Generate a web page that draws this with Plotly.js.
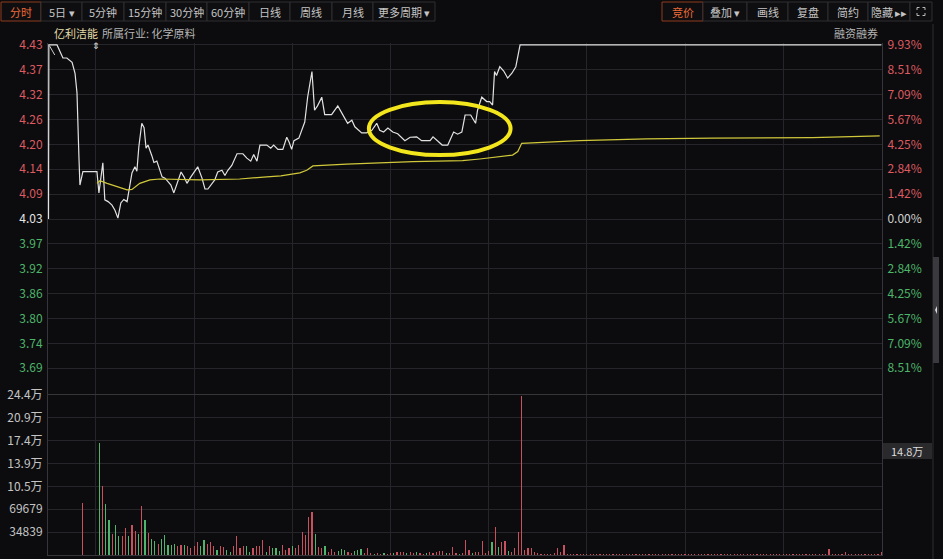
<!DOCTYPE html>
<html><head><meta charset="utf-8">
<script src="https://cdn.plot.ly/plotly-3.0.1.min.js"></script>
<style>html,body{margin:0;padding:0;background:#0c0c0e;}#chart{width:943px;height:559px;}</style>
</head><body><div id="chart"></div>
<script>
// ---------------- DATA ----------------
const stockName = '亿利洁能';
const industry = '所属行业: 化学原料';
const prevClose = 4.03;

// price ticks (left) and percent ticks (right)
const pctTickVals = [9.93, 8.51, 7.09, 5.67, 4.25, 2.84, 1.42, 0, -1.42, -2.84, -4.25, -5.67, -7.09, -8.51];
const priceTickText = ['4.43','4.37','4.32','4.26','4.20','4.14','4.09','4.03','3.97','3.92','3.86','3.80','3.74','3.69'];
const pctTickText = ['9.93%','8.51%','7.09%','5.67%','4.25%','2.84%','1.42%','0.00%','1.42%','2.84%','4.25%','5.67%','7.09%','8.51%'];

// volume ticks
const volTickVals = [34839, 69679, 104518, 139357, 174197, 209036, 243875];
const volTickText = ['34839','69679','10.5万','13.9万','17.4万','20.9万','24.4万'];

// price line (minutes from 9:30; negative = call auction)
const priceT = [-14.5,-14.4,-11.9,-10.1,-8.9,-7.3,-6.4,-5.8,-5.2,-4.9,-4.0,0.3,0.9,2.1,2.7,3.7,4.9,5.8,6.7,7.6,8.5,9.5,11,11.9,12.5,13.1,14,14.7,15.3,15.9,17.1,17.7,18.6,19.2,20.2,21.1,22,22.9,23.8,24.7,26,26.9,27.8,29,29.9,31.1,32.4,33.3,34.2,35.4,36.3,37.2,38.5,39.4,40.3,41.5,43.1,44.9,46.1,47.3,48.2,49.2,50.1,52.2,53.4,54.3,55.6,57.1,58.3,59,59.8,60.5,62,63.8,64.7,66,66.8,67.7,69,69.9,72,73.9,75.4,76.9,78.2,79.1,81.2,82.7,84.3,85.8,86.7,87.9,89.2,90.7,92.2,94.4,96,98,99.5,101.1,102.1,103,104.6,105.8,107.5,108.4,109.3,110.5,111.8,112.8,114.5,116,116.6,117.9,119.4,120.3,121.2,121.8,122.4,123.4,124.6,125.8,127.1,128.3,129.6,240];
const priceV = [4.03,4.43,4.43,4.40,4.40,4.39,4.365,4.32,4.17,4.108,4.139,4.139,4.09,4.159,4.074,4.07,4.062,4.05,4.032,4.067,4.075,4.07,4.136,4.15,4.14,4.196,4.25,4.24,4.193,4.20,4.175,4.16,4.163,4.15,4.127,4.124,4.115,4.108,4.09,4.11,4.138,4.127,4.112,4.127,4.138,4.15,4.124,4.099,4.099,4.112,4.12,4.138,4.142,4.13,4.142,4.153,4.18,4.18,4.17,4.163,4.178,4.163,4.20,4.20,4.193,4.20,4.19,4.19,4.218,4.207,4.19,4.21,4.216,4.253,4.311,4.369,4.28,4.29,4.31,4.27,4.27,4.29,4.27,4.25,4.257,4.242,4.228,4.228,4.234,4.25,4.234,4.23,4.239,4.23,4.226,4.21,4.218,4.219,4.21,4.21,4.21,4.219,4.208,4.20,4.20,4.216,4.23,4.225,4.23,4.269,4.269,4.25,4.28,4.31,4.30,4.30,4.292,4.369,4.36,4.38,4.37,4.354,4.365,4.38,4.43,4.43];

// auction indicative-price stroke (the small cross at the open)
const auctionCrossT = [-14.2, -12.6];
const auctionCrossV = [4.428, 4.407];

// average price line
const avgT = [0.3,1.2,3.4,6.4,9.5,11,13.4,16.5,19.5,31.8,43.9,52.2,56.5,62.3,64.4,66.3,76.6,96.8,112,117.3,121.2,127.3,128.9,130.1,147.8,168.2,188.4,219,239.5];
const avgV = [4.112,4.118,4.112,4.105,4.097,4.098,4.112,4.12,4.122,4.12,4.122,4.127,4.129,4.136,4.142,4.152,4.156,4.162,4.164,4.168,4.172,4.177,4.185,4.204,4.21,4.214,4.216,4.217,4.221];

// call-auction volume bar
const auctionT = [-4];
const auctionVol = [78800];

// per-minute volume, minutes 1..240
const volume = [
170000,105000,78000,54000,32000,45000,29000,29000,41000,29000,
45000,37000,32000,74000,54000,33000,24000,22000,17000,25000,
30000,15000,15000,17000,13000,16000,15000,14000,11000,13000,
20000,13000,23000,17000,20000,14000,7000,14000,12000,8000,
5000,14000,29000,10000,14000,13000,5000,10000,14000,14000,
23000,5000,14000,10000,10000,6000,16000,8000,10000,14000,
10000,15000,35600,30000,58000,66000,32000,11700,10000,13000,
5000,8500,5000,6600,8500,7600,4600,2500,6600,7600,
8500,2500,10000,3000,2000,3000,2000,3000,2000,2500,
3000,4000,4000,5000,3000,4000,3000,4000,3000,2000,
3000,4000,3000,5000,6600,6600,3000,3000,11700,3000,
2000,3000,22900,7600,3000,4000,5000,21000,3000,6600,
20000,42000,12700,20000,21800,6600,5000,10000,35600,243000,
7600,10000,11000,5000,2500,2000,2000,1500,2000,3000,
10000,4000,16000,1500,1200,1000,1800,900,1300,1100,
1600,800,1200,1500,1000,1400,900,1700,1100,1300,
1000,1500,800,1200,2000,1100,900,1400,1000,1300,
1200,800,1600,1000,1100,1400,900,1200,1500,1000,
800,1300,1100,1700,900,1000,1200,1400,800,1100,
1300,1000,900,1500,1200,1100,800,1300,1000,1600,
1100,900,1200,1400,1000,1300,800,1100,1500,1000,
1200,900,1300,1000,1600,1100,900,1400,1200,1000,
1300,1500,2000,9000,1200,1000,1400,1700,4000,1100,
1000,1300,900,1200,1500,1100,1000,1300,1600,4000];
// r = up minute (red), g = down minute (green)
const volDir = (
'grggrggrrg'+'rrgrgrggrg'+'ggggrrgrrr'+'rggrrrgrrg'+'grrrrggrrr'+'rgrgggrrrg'+
'rrrrrrgrrg'+'rrrgggrrgg'+'grrrgrrgrr'+'grrrgrrgrr'+'grrrrrgrrr'+'grrrgrrrrr'+
'grgrrgrrrr'+'rrrrrrrrrr'+'rrrrrrrrrr'+'rrrrrrrrrr'+'rrrrrrrrrr'+'rrrrrrrrrr'+
'rrrrrrrrrr'+'rrrrrrrrrr'+'rrrrrrrrrr'+'rrrrrrrrrr'+'rrrrrrrrrr'+'rrrrrrrrrr').split('');
const cursorVolText = '14.8万';

// ---------------- STYLE / LAYOUT ----------------
const BG = '#0c0c0e', GRID = '#25252a', FRAME = '#35353a';
const RED = '#dd5a60', GREEN = '#4cb56a', GRAY = '#bdbdbd';
const BAR_RED = '#c9505e', BAR_GREEN = '#4fb46c';
const FONT = 'Noto Sans CJK SC, Noto Sans, sans-serif';
const L=48, R=882, T=43, B=555;
const px = x => (x-L)/(R-L);
const py = y => (B-y)/(B-T);

const priceTickVals = pctTickVals.map(p => prevClose*(1+p/100));
const colorFor = p => p > 0 ? RED : (p < 0 ? GREEN : '#e6e6e6');
const leftText = priceTickText.map((t,i)=>`<span style="color:${colorFor(pctTickVals[i])}">${t}</span>`);
const rightText = pctTickText.map((t,i)=>`<span style="color:${pctTickVals[i]===0?'#d0d0d0':colorFor(pctTickVals[i])}">${t}</span>`);

const minutes = volume.map((v,i)=>i+1);

const traces = [
  {x: priceT, y: priceV, type:'scatter', mode:'lines', line:{color:'#e2e2e2', width:1.2}, xaxis:'x', yaxis:'y', hoverinfo:'skip'},
  {x: auctionCrossT, y: auctionCrossV, type:'scatter', mode:'lines', line:{color:'#cfcfcf', width:1}, xaxis:'x', yaxis:'y', hoverinfo:'skip'},
  {x: avgT, y: avgV, type:'scatter', mode:'lines', line:{color:'#d0c83a', width:1.2}, xaxis:'x', yaxis:'y', hoverinfo:'skip'},
  {x: priceT.slice(0,1), y: priceV.slice(0,1), type:'scatter', mode:'lines', xaxis:'x', yaxis:'y2', showlegend:false, hoverinfo:'skip'},
  {x: minutes, y: volume, type:'bar', width:0.36, marker:{color: volDir.map(d=>d==='r'?BAR_RED:BAR_GREEN), line:{width:0}}, xaxis:'x2', yaxis:'y3', hoverinfo:'skip'},
  {x: auctionT, y: auctionVol, type:'bar', width:0.36, marker:{color:BAR_RED, line:{width:0}}, xaxis:'x2', yaxis:'y3', hoverinfo:'skip'}
];

const xr = [-14.66, 240.2];
const xTicks = [0,30,60,90,120,150,180,210,240];
const priceRange = [3.628, 4.4345];

// toolbar
const leftBtns = [[1,41,'分时',true],[41,82,'5日 ▾'],[82,124,'5分钟'],[124,166,'15分钟'],[166,207,'30分钟'],[207,249,'60分钟'],[249,290,'日线'],[290,332,'周线'],[332,373,'月线'],[373,435,'更多周期 ▾']];
const rightBtns = [[662,703,'竞价',true],[703,747,'叠加 ▾'],[747,788,'画线'],[788,828,'复盘'],[828,868,'简约'],[868,910,'隐藏 ▸▸'],[910,932,'']];
const shapes = [];
const annotations = [];
[...leftBtns, ...rightBtns].forEach(b=>{
  shapes.push({type:'rect', xref:'paper', yref:'paper', x0:px(b[0]), x1:px(b[1]), y0:py(21), y1:py(2),
    line:{color: b[3]?'#8e3a1c':'#2e2e32', width:1}, fillcolor:'#0e0e10', layer:'above'});
  if (b[2]) annotations.push({xref:'paper', yref:'paper', x:px((b[0]+b[1])/2), y:py(11.5), text:b[2], showarrow:false,
    xanchor:'center', yanchor:'middle', font:{family:FONT, size:11, color: b[3]?'#ee6a36':'#c4c4c4'}});
});
// fullscreen icon
const cx=921, cy=11.5, s=4, a=2.5;
const corners = [[-1,-1],[1,-1],[-1,1],[1,1]];
corners.forEach(([dx,dy])=>{
  const x0=cx+dx*s, y0=cy+dy*s;
  shapes.push({type:'path', xref:'paper', yref:'paper', layer:'above',
    path:`M ${px(x0-dx*a)} ${py(y0)} L ${px(x0)} ${py(y0)} L ${px(x0)} ${py(y0-dy*a)}`, line:{color:'#bbbbbb', width:1}});
});

// header text
annotations.push({xref:'paper', yref:'paper', x:px(52), y:py(33), text:stockName, showarrow:false, xanchor:'left', yanchor:'middle', font:{family:FONT, size:11, color:'#e4dcaa'}});
annotations.push({xref:'paper', yref:'paper', x:px(100), y:py(33), text:industry, showarrow:false, xanchor:'left', yanchor:'middle', font:{family:FONT, size:11, color:'#b4b4b4'}});
annotations.push({xref:'paper', yref:'paper', x:px(880), y:py(33), text:'融资融券', showarrow:false, xanchor:'right', yanchor:'middle', font:{family:FONT, size:11, color:'#b4b4b4'}});
annotations.push({xref:'paper', yref:'paper', x:px(96), y:py(46), text:'⇕', showarrow:false, xanchor:'center', yanchor:'middle', font:{family:'DejaVu Sans', size:9, color:'#e0e0e0'}});
// cursor volume label
shapes.push({type:'rect', xref:'paper', yref:'paper', x0:px(883), x1:px(932), y0:py(459), y1:py(443), fillcolor:'#2a2a2d', line:{width:0}, layer:'above'});
annotations.push({xref:'paper', yref:'paper', x:px(907), y:py(451), text:cursorVolText, showarrow:false, xanchor:'center', yanchor:'middle', font:{family:FONT, size:11, color:'#dcdcdc'}});
// right side separator + scrollbar
shapes.push({type:'line', xref:'paper', yref:'paper', x0:px(933), x1:px(933), y0:py(24), y1:py(559), line:{color:'#2e2e32', width:1}});
shapes.push({type:'rect', xref:'paper', yref:'paper', x0:px(933), x1:px(939), y0:py(363), y1:py(257), fillcolor:'#3a3a3e', line:{width:0}});
shapes.push({type:'path', xref:'paper', yref:'paper', path:`M ${px(937)} ${py(306)} L ${px(935)} ${py(310)} L ${px(937)} ${py(314)} Z`, fillcolor:'#dddddd', line:{width:0}});
// highlight ellipse
shapes.push({type:'circle', xref:'x', yref:'y', x0:83.4, x1:126.7, y0:4.177, y1:4.2988, line:{color:'#f4e61c', width:4}, layer:'above'});

const axBase = {showgrid:true, gridcolor:GRID, gridwidth:1, zeroline:false, ticks:'', fixedrange:true};
const layout = {
  width:943, height:559, paper_bgcolor:BG, plot_bgcolor:BG, showlegend:false, hovermode:false,
  margin:{l:L, r:943-R, t:T, b:559-B, pad:0},
  font:{family:FONT, size:12, color:GRAY},
  bargap:0,
  xaxis:{...axBase, domain:[0,1], range:xr, tickvals:xTicks, showticklabels:false, anchor:'y', showline:true, linecolor:FRAME, mirror:false},
  yaxis:{...axBase, domain:[0.3145,1], range:priceRange, tickvals:priceTickVals, ticktext:leftText, tickfont:{family:FONT, size:12}, showline:true, linecolor:FRAME, anchor:'x', ticklabelstandoff:2},
  yaxis2:{...axBase, showgrid:false, overlaying:'y', side:'right', range:priceRange, tickvals:priceTickVals, ticktext:rightText, tickfont:{family:FONT, size:12}, showline:true, linecolor:FRAME, anchor:'x', ticklabelstandoff:2},
  xaxis2:{...axBase, domain:[0,1], range:xr, tickvals:xTicks, showticklabels:false, anchor:'y3', showline:true, linecolor:FRAME},
  yaxis3:{...axBase, domain:[0,0.3125], range:[0,243875], tickvals:volTickVals, ticktext:volTickText, tickfont:{family:FONT, size:12, color:'#c4c4c4'}, showline:true, linecolor:FRAME, mirror:true, anchor:'x2', ticklabelstandoff:2},
  shapes, annotations
};
Plotly.newPlot('chart', traces, layout, {staticPlot:true, displayModeBar:false});
</script>
</body></html>
